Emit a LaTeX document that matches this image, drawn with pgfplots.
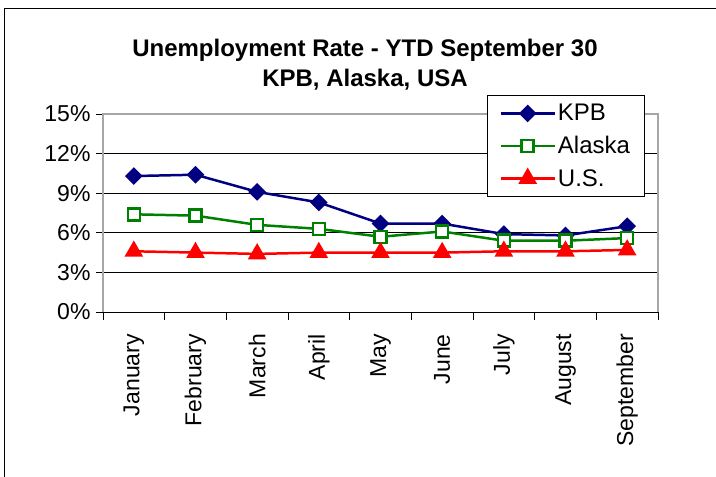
\documentclass[border=0pt]{standalone}
\usepackage{pgfplots}
\pgfplotsset{compat=1.18}
\usepackage{fontspec}
\setmainfont{Liberation Sans}
\definecolor{kpb}{RGB}{0,0,128}
\definecolor{ak}{RGB}{0,128,0}
\definecolor{us}{RGB}{255,0,0}
\begin{document}
\begin{tikzpicture}
\useasboundingbox (0,0) rectangle (716bp,477bp);
\draw[line width=1pt] (4.5bp,0) -- (4.5bp,468bp) -- (716bp,468bp);
\node[font=\fontsize{24bp}{28bp}\selectfont\bfseries] at (365bp,427bp) {Unemployment Rate - YTD September 30};
\node[font=\fontsize{24bp}{28bp}\selectfont\bfseries] at (365bp,397bp) {KPB, Alaska, USA};
\begin{axis}[
  at={(103bp,165bp)}, anchor=south west,
  scale only axis, width=555bp, height=198bp,
  xmin=-0.5, xmax=8.5, ymin=0, ymax=15,
  xtick={0,...,8},
  xticklabels={January,February,March,April,May,June,July,August,September},
  minor xtick={-0.5,0.5,...,8.5},
  major x tick style={draw=none},
  minor x tick style={black, line width=0.8pt},
  ytick={0,3,...,15},
  yticklabel={\pgfmathprintnumber{\tick}\%},
  /pgf/number format/assume math mode=true,
  tick align=outside,
  major tick length=7bp, minor tick length=8bp,
  ytick style={black, line width=0.8pt},
  ymajorgrids, grid style={black, line width=0.7pt},
  axis line style={draw=none},
  tick label style={font=\fontsize{23bp}{26bp}\selectfont},
  xticklabel style={rotate=90, anchor=east, inner sep=0pt},
  xtick pos=bottom, ytick pos=left,
  xticklabel shift=15bp,
  yticklabel shift=2bp,
  legend style={at={(rel axis cs:0.692,1.096)}, anchor=north west,
    draw=black, line width=0.8pt, fill=white,
    font=\fontsize{24bp}{27bp}\selectfont,
    /tikz/every even column/.append style={column sep=3bp},
    row sep=10bp, inner xsep=12bp, inner ysep=7bp, cells={anchor=west}},
  legend image code/.code={\draw[mark repeat=2,mark phase=2] plot coordinates {(0bp,0bp)(27bp,0bp)(54bp,0bp)};},
  clip=false,
]
\draw[gray!70, line width=2pt] (rel axis cs:0,0) -- (rel axis cs:0,1) -- (rel axis cs:1,1) -- (rel axis cs:1,0);
\draw[black, line width=1pt] (rel axis cs:0,0) -- (rel axis cs:1,0);
\addplot[kpb, line width=2.5pt, mark=square*, mark size=5bp, mark options={rotate=45, solid, fill=kpb}]
 coordinates {(0,10.3)(1,10.4)(2,9.1)(3,8.3)(4,6.7)(5,6.7)(6,5.9)(7,5.8)(8,6.5)};
\addlegendentry{KPB}
\addplot[ak, line width=2.5pt, mark=square*, mark size=6bp, mark options={solid, fill=white}]
 coordinates {(0,7.4)(1,7.3)(2,6.6)(3,6.3)(4,5.7)(5,6.1)(6,5.4)(7,5.4)(8,5.6)};
\addlegendentry{Alaska}
\addplot[us, line width=2.5pt, mark=triangle*, mark size=8.3bp, mark options={solid, fill=us}]
 coordinates {(0,4.6)(1,4.5)(2,4.4)(3,4.5)(4,4.5)(5,4.5)(6,4.6)(7,4.6)(8,4.7)};
\addlegendentry{U.S.}
\end{axis}
\end{tikzpicture}
\end{document}
